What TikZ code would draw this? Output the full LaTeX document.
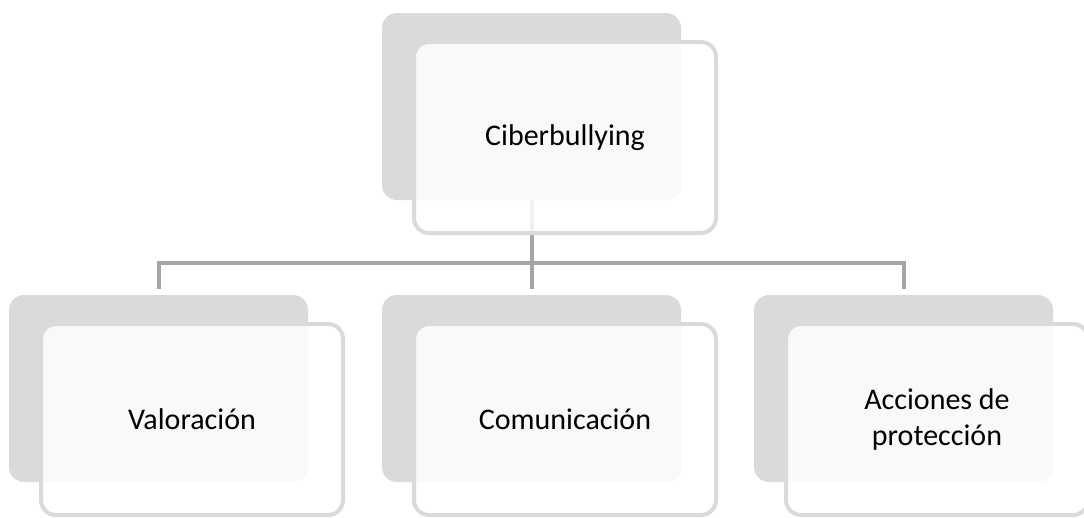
\documentclass[tikz,border=0pt]{standalone}
\usepackage{fontspec}
\setmainfont{Carlito}
\definecolor{backgray}{RGB}{218,218,218}
\definecolor{linkgray}{RGB}{165,165,165}
\tikzset{
  back/.style={fill=backgray,rounded corners=15pt,minimum width=299pt,minimum height=187pt,inner sep=0pt},
  front/.style={draw=backgray,line width=4pt,fill=white,fill opacity=0.85,text opacity=1,rounded corners=15pt,
    minimum width=302pt,minimum height=191pt,inner sep=0pt,align=center,font=\fontsize{30}{36}\selectfont},
  link/.style={draw=linkgray,line width=4pt}
}
\begin{document}
\begin{tikzpicture}[x=1pt,y=-1pt]
        \useasboundingbox (0,0) rectangle (1084,517);
        \clip (0,0) rectangle (1084,517);
        % shadow boxes
        \node[back] (cyberback) at (531.5,106.5) {};
        \node[back] (valback) at (158.5,388.5) {};
        \node[back] (comback) at (531.5,388.5) {};
        \node[back] (accback) at (903.5,388.5) {};
        
        % connectors
        \draw[link] (cyberback.south) -- ++(0,63) -| ([yshift=6pt]valback.north);
        \draw[link] (cyberback.south) -- ([yshift=6pt]comback.north);
        \draw[link] (cyberback.south) -- ++(0,63) -| ([yshift=6pt]accback.north);
        
        % front boxes
        \node[front] (cyber) at ([shift={(33.5,31)}]cyberback) {Ciberbullying};
        \node[front] (val) at ([shift={(33.5,31)}]valback) {Valoración};
        \node[front] (com) at ([shift={(33.5,31)}]comback) {Comunicación};
        \node[front] (acc) at ([shift={(33.5,31)}]accback) {Acciones de\\protección};
\end{tikzpicture}
\end{document}
